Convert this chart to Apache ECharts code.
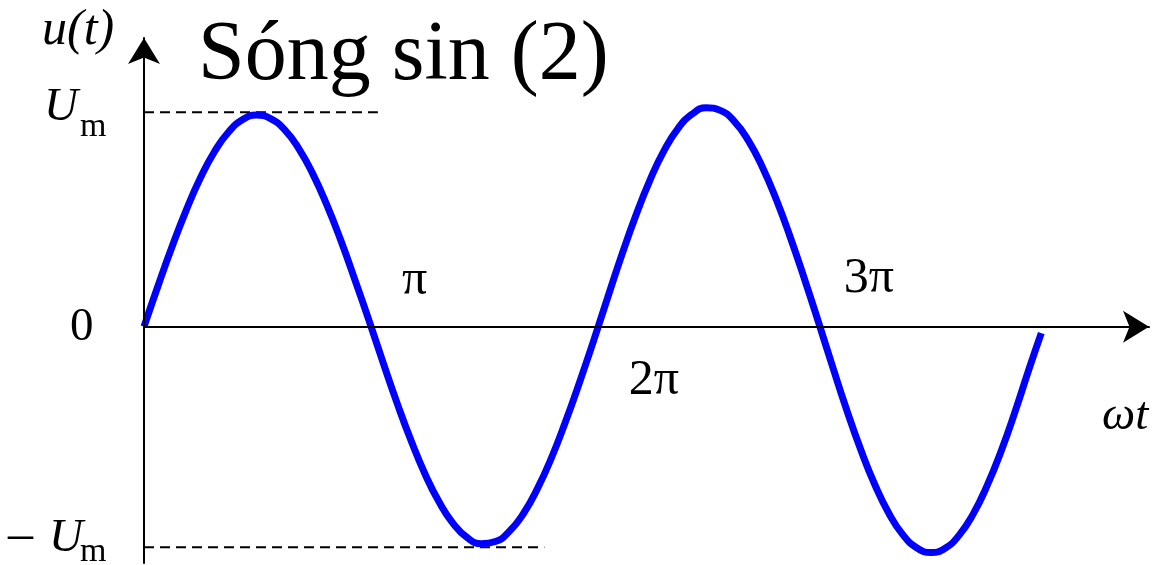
<!DOCTYPE html>
<html>
<head>
<meta charset="utf-8">
<script src="https://cdn.jsdelivr.net/npm/echarts@6/dist/echarts.min.js"></script>
<style>
  html, body { margin: 0; padding: 0; background: #fff; }
  #chart { width: 1156px; height: 565px; }
</style>
</head>
<body>
<div id="chart"></div>
<script>
// wave: x in multiples of pi, y in units of Um
const waveX = [0, 0.0625, 0.125, 0.1875, 0.25, 0.3125, 0.375, 0.4375, 0.5,
  0.5625, 0.625, 0.6875, 0.75, 0.8125, 0.875, 0.9375, 1,
  1.0625, 1.125, 1.1875, 1.25, 1.3125, 1.375, 1.4375, 1.5,
  1.5625, 1.625, 1.6875, 1.75, 1.8125, 1.875, 1.9375, 2,
  2.0625, 2.125, 2.1875, 2.25, 2.3125, 2.375, 2.4375, 2.5,
  2.5625, 2.625, 2.6875, 2.75, 2.8125, 2.875, 2.9375, 3,
  3.0625, 3.125, 3.1875, 3.25, 3.3125, 3.375, 3.4375, 3.5,
  3.5625, 3.625, 3.6875, 3.75, 3.8125, 3.875, 3.9375, 3.99];
const waveY = [0, 0.191, 0.374, 0.543, 0.692, 0.815, 0.907, 0.965, 0.987,
  0.971, 0.919, 0.832, 0.714, 0.569, 0.403, 0.220, 0.031,
  -0.165, -0.355, -0.531, -0.688, -0.818, -0.918, -0.984, -1.012,
  -1.002, -0.954, -0.871, -0.754, -0.610, -0.441, -0.257, -0.063,
  0.138, 0.336, 0.520, 0.684, 0.821, 0.925, 0.992, 1.021,
  1.009, 0.958, 0.868, 0.744, 0.591, 0.414, 0.221, 0.019,
  -0.188, -0.389, -0.574, -0.737, -0.871, -0.971, -1.032, -1.053,
  -1.033, -0.972, -0.873, -0.739, -0.577, -0.391, -0.191, -0.030];

const xTickValues = [1, 2, 3];
const xTickLabels = ["π", "2π", "3π"];
const yTickValues = [1, 0, -1.029];
const yTickLabels = ["U", "0", "U"];

// dashed guide lines at +Um / -Um and where they stop
const dashLevels = [1, -1.029];
const dashEnds = [1.04, 1.78];

const titleText = "Sóng sin (2)";

const FONT = '"Liberation Serif", "Times New Roman", serif';

const chart = echarts.init(document.getElementById("chart"));

chart.setOption({
  animation: false,
  backgroundColor: "#fff",
  grid: { left: 144, top: 38, width: 1005, height: 525 },
  xAxis: {
    type: "value",
    min: 0,
    max: 4.469,
    z: 10,
    axisLine: {
      lineStyle: { color: "#000", width: 2 },
      symbol: ["none", "arrow"],
      symbolSize: [24, 26],
    },
    axisTick: { show: false },
    axisLabel: { show: false },
    splitLine: { show: false },
  },
  yAxis: {
    type: "value",
    min: -1.102,
    max: 1.3466,
    z: 10,
    axisLine: {
      show: true,
      lineStyle: { color: "#000", width: 2 },
      symbol: ["none", "arrow"],
      symbolSize: [24, 26],
    },
    axisTick: { show: false },
    axisLabel: { show: false },
    splitLine: { show: false },
  },
  series: [
    ...dashLevels.map((lv, i) => ({
      type: "line",
      data: [[0, lv], [dashEnds[i], lv]],
      showSymbol: false,
      silent: true,
      lineStyle: { color: "#000", width: 2, type: [10, 6] },
      z: 1,
    })),
    {
      type: "line",
      data: waveX.map((x, i) => [x, waveY[i]]),
      showSymbol: false,
      smooth: 0.5,
      lineStyle: { color: "#0000ff", width: 7, cap: "butt", join: "round" },
      z: 3,
    },
  ],
});

// text helper, x = left origin, base = baseline
const txt = (str, x, base, size, italic) => ({
  type: "text",
  z: 100,
  style: {
    text: str,
    x: x,
    y: base - 0.32 * size,
    font: (italic ? "italic " : "") + size + "px " + FONT,
    fill: "#000",
    align: "left",
    verticalAlign: "middle",
  },
});

const px = (x, y) => chart.convertToPixel({ gridIndex: 0 }, [x, y]);

const graphics = [];
graphics.push(txt(titleText, 198, 84, 84, false));
graphics.push(txt("u(t)", 42, 47, 50, true));
graphics.push(txt("ωt", 1102, 432, 47, true));

// pi labels, alternating above / below the axis
const xOff = [[33, -30], [35, 70], [25, -32]];
xTickValues.forEach((v, i) => {
  const p = px(v, 0);
  graphics.push(txt(xTickLabels[i], p[0] + xOff[i][0], p[1] + xOff[i][1], 50, false));
});

// Um, 0, -Um
yTickValues.forEach((v, i) => {
  const p = px(0, v);
  if (i === 1) {
    graphics.push(txt(yTickLabels[i], 70, p[1] + 16, 47, false));
  } else if (i === 0) {
    graphics.push(txt(yTickLabels[i], 44, p[1] + 10, 47, true));
    graphics.push(txt("m", 80, p[1] + 26, 34, false));
  } else {
    graphics.push(txt("\u2013", 8, p[1] + 6, 50, false));
    graphics.push(txt(yTickLabels[i], 49, p[1] + 6, 47, true));
    graphics.push(txt("m", 80, p[1] + 16, 34, false));
  }
});

chart.setOption({ graphic: graphics });
</script>
</body>
</html>
